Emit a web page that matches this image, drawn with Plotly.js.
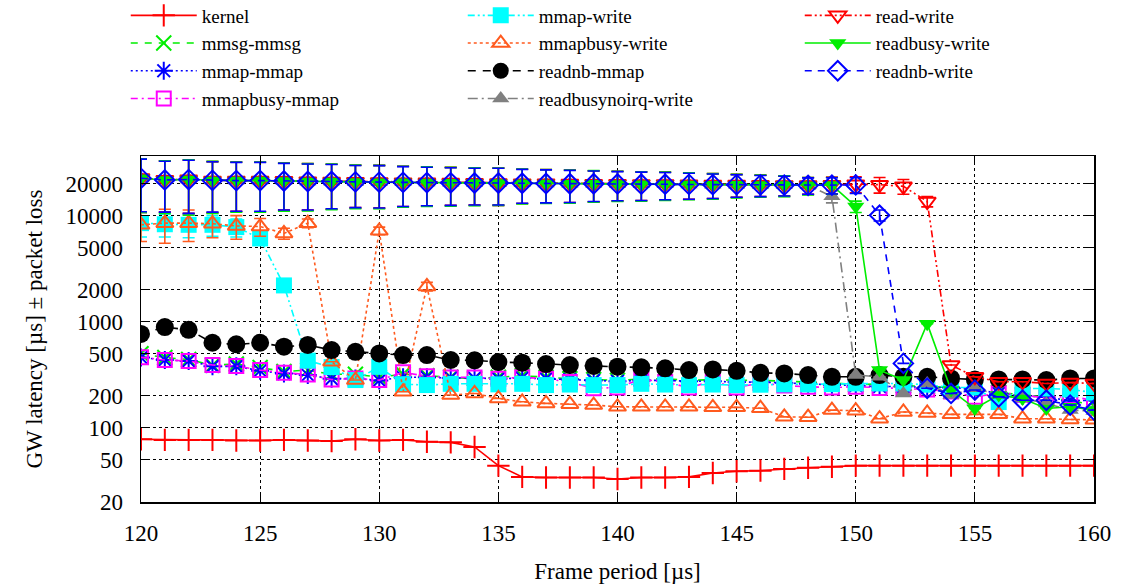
<!DOCTYPE html>
<html>
<head>
<meta charset="utf-8">
<script src="https://cdn.plot.ly/plotly-3.0.1.min.js"></script>
<style>
  html, body { margin: 0; padding: 0; background: #fff; }
  #chart { width: 1122px; height: 588px; }
</style>
</head>
<body>
<div id="chart"></div>
<script>
// Frame period [µs]
const framePeriod = [120,121,122,123,124,125,126,127,128,129,130,131,132,133,134,135,136,137,138,139,140,
                     141,142,143,144,145,146,147,148,149,150,151,152,153,154,155,156,157,158,159,160];

// GW latency [µs]
const kernel = [78,77,77,77,76,76,77,76,75,78, 76,77,74,73,66,44,34.5,34,34,34,
                33,34,34,34.5,37.5,39,39.5,41,42,43, 44,44,44,44,44,44,44,44,44,44,44];
const mmsgMmsg = [500,460,440,390,400,370,340,350,320,320, 300,320,310,300,290,300,310,300,290,285,
                  280,290,290,280,285,280,280,275,270,265, 255,260,250,245,240,230,215,205,195,180,165];
const mmapMmap = [460,436,427,380,380,345,325,315,290,292, 280,300,300,295,295,290,295,290,285,280,
                  275,280,280,275,275,270,270,265,260,255, 250,245,245,240,240,230,212,200,195,180,182];
const mmapbusyMmap = [462,436,427,391,383,350,330,319,285,292, 282,334,306,299,299,290,300,290,270,236,
                      240,288,270,240,275,240,265,250,244,240, 244,238,235,230,220,196,212,205,190,200,180];
const mmapWrite = [8500,8300,8200,8200,7800,6100,2200,430,374,282, 376,258,253,260,260,257,260,253,256,253,
                   253,260,256,253,256,253,255,257,257,258, 262,262,262,255,240,240,175,235,235,230,215];
const mmapWriteErr = [2200,2000,2000,1800,1500,500,null,null,null,null, null,null,null,null,null,null,null,null,null,null,
                      null,null,null,null,null,null,null,null,null,null, null,null,null,null,null,null,null,null,null,null,null];
const mmapbusyWrite = [8200,8500,8500,8400,8000,7900,6800,8500,420,282, 7200,219,2150,204,211,189,176,170,167,164,
                       158,158,158,158,156,156,153,127,126,147, 145,122,141,138,134,134,134,122,122,120,119];
const mmapbusyWriteErr = [2500,3000,2800,2200,2000,1500,800,800,null,null, 600,null,200,null,null,null,null,null,null,null,
                          null,null,null,null,null,null,null,null,null,null, null,null,null,null,null,null,null,null,null,null,null];
const readnbMmap = [767,890,840,634,612,634,582,604,541,521, 503,485,485,436,433,417,411,399,391,383,
                    377,372,364,350,355,345,330,326,314,303, 303,314,303,303,292,286,286,286,282,292,292];
const readbusynoirqWrite = [22400,21800,21900,21500,21400,21400,21200,21000,21000,20800, 20700,20600,20500,20400,20300,20300,20200,20100,20000,20000,
                            19900,19800,19800,19700,19600,19600,19500,19400,19300,15200, 314,303,211,262,204,236,204,189,170,147,144];
const readWrite = [22600,21800,22000,21500,21500,21400,21300,21100,21000,20900, 20800,20700,20600,20500,20400,20300,20200,20200,20100,20000,
                   20000,19900,19900,19800,19700,19700,19600,19500,19400,19600, 19800,19600,18900,13600,391,303,272,272,262,267,262];
const readbusyWrite = [22500,21700,21900,21500,21400,21400,21200,21000,21000,20800, 20700,20600,20500,20400,20300,20300,20200,20100,20000,20000,
                       19900,19800,19800,19700,19600,19600,19500,19400,19300,19400, 12200,350,282,960,227,152,204,189,152,158,147];
const readnbWrite = [22500,21700,21900,21500,21400,21400,21200,21000,21000,20800, 20700,20600,20500,20400,20300,20300,20200,20100,20000,20000,
                     19900,19800,19800,19700,19600,19600,19500,19400,19300,19400, 19500,10100,405,236,211,227,196,182,182,164,147];

// ± packet loss (error bars of the saturated series)
const readWriteErr = [11700,11000,11500,10800,10500,10500,10000,9800,9500,9000, 9000,8500,8200,8000,7800,7800,7200,7000,6800,6500,
                      6200,6000,5800,5500,5200,4800,4500,4200,3500,3500, 3400,3300,3000,1500,null,null,null,null,null,null,null];
const readbusyWriteErr = [11800,11200,11800,11000,10600,10600,10200,9900,9600,9200, 9100,8600,8300,8100,7900,7800,7300,7100,6900,6600,
                          6300,6100,5900,5600,5300,4900,4600,4300,3600,3500, 1500,null,null,null,null,null,null,null,null,null,null];
const readnbWriteErr = [11600,10900,11400,10700,10400,10400,9900,9700,9400,8900, 8900,8400,8100,7900,7700,7700,7100,6900,6700,6400,
                        6100,5900,5700,5400,5100,4700,4400,4100,3400,3400, 3300,1200,null,null,null,null,null,null,null,null,null];
const readbusynoirqWriteErr = [11700,11000,11500,10800,10500,10500,10000,9800,9500,9000, 9000,8500,8200,8000,7800,7800,7200,7000,6800,6500,
                               6200,6000,5800,5500,5200,4800,4500,4200,3500,2000, null,null,null,null,null,null,null,null,null,null,null];

const seriesNames = ['kernel','mmsg-mmsg','mmap-mmap','mmapbusy-mmap','mmap-write','mmapbusy-write',
                     'readnb-mmap','readbusynoirq-write','read-write','readbusy-write','readnb-write'];

function mk(name, y, err, color, dash, symbol, size, open, rank) {
  const t = {
    type: 'scatter', mode: 'lines+markers', name: name, x: framePeriod, y: y,
    line: {color: color, width: 1.6, dash: dash},
    marker: {symbol: symbol, size: size, color: color,
             line: {color: color, width: open ? 2 : 0}},
    legendrank: rank
  };
  if (err) {
    t.error_y = {type: 'data', array: err, visible: true, color: color, thickness: 1.6, width: 6};
  }
  return t;
}

const orange = '#ff5a1e';
const traces = [
  mk(seriesNames[0], kernel, null, '#ff0000', 'solid', 'cross-thin-open', 16, true, 1),
  mk(seriesNames[1], mmsgMmsg, null, '#00ee00', '7px,7px', 'x-thin-open', 15, true, 4),
  mk(seriesNames[2], mmapMmap, null, '#0000ff', '2px,3px', 'asterisk-open', 15, true, 7),
  mk(seriesNames[3], mmapbusyMmap, null, '#ff00ff', '7px,4px,2px,4px', 'square-open', 14, true, 10),
  mk(seriesNames[4], mmapWrite, mmapWriteErr, '#00ffff', '7px,3px,2px,3px,2px,3px', 'square', 16, false, 2),
  mk(seriesNames[5], mmapbusyWrite, mmapbusyWriteErr, orange, '3px,3px', 'triangle-up-open', 15, true, 5),
  mk(seriesNames[6], readnbMmap, null, '#000000', '8px,7px', 'circle', 18, false, 8),
  mk(seriesNames[7], readbusynoirqWrite, readbusynoirqWriteErr, '#808080', '10px,4px,2px,4px', 'triangle-up', 15, false, 11),
  mk(seriesNames[8], readWrite, readWriteErr, '#ff0000', '7px,3px,2px,3px,2px,3px', 'triangle-down-open', 15, true, 3),
  mk(seriesNames[9], readbusyWrite, readbusyWriteErr, '#00ee00', 'solid', 'triangle-down', 15, false, 6),
  mk(seriesNames[10], readnbWrite, readnbWriteErr, '#0000ff', '7px,6px', 'diamond-open', 15, true, 9)
];

const yTicks = [20,50,100,200,500,1000,2000,5000,10000,20000];
const xTicks = [120,125,130,135,140,145,150,155,160];

const fontFam = 'Liberation Serif, serif';
const layout = {
  width: 1122, height: 588,
  paper_bgcolor: '#ffffff', plot_bgcolor: '#ffffff',
  font: {family: fontFam, size: 22, color: '#000'},
  margin: {l: 141, r: 28, t: 156, b: 86, autoexpand: false},
  showlegend: true,
  legend: {
    orientation: 'h', xref: 'paper', yref: 'paper', x: -0.016, y: 1.461,
    xanchor: 'left', yanchor: 'top', traceorder: 'normal',
    entrywidth: 256, entrywidthmode: 'pixels', itemwidth: 66,
    font: {family: fontFam, size: 19}, bgcolor: 'rgba(0,0,0,0)', tracegroupgap: 0
  },
  xaxis: {
    range: [120, 160], tickvals: xTicks, ticktext: xTicks.map(String),
    ticks: 'inside', ticklen: 9, tickcolor: '#000', tickwidth: 1,
    showline: true, linecolor: '#000', linewidth: 1.5, mirror: 'ticks',
    showgrid: true, gridcolor: '#000', griddash: 'dot', gridwidth: 1,
    zeroline: false, ticklabelstandoff: 10,
    tickfont: {family: fontFam, size: 23},
    title: {text: 'Frame period [µs]', font: {family: fontFam, size: 23}, standoff: 18}
  },
  yaxis: {
    type: 'log', range: [Math.log10(20), Math.log10(36500)],
    tickvals: yTicks, ticktext: yTicks.map(String),
    ticks: 'inside', ticklen: 9, tickcolor: '#000', tickwidth: 1,
    showline: true, linecolor: '#000', linewidth: 1.5, mirror: 'ticks',
    showgrid: true, gridcolor: '#000', griddash: 'dot', gridwidth: 1,
    zeroline: false, ticklabelstandoff: 12,
    tickfont: {family: fontFam, size: 23},
    title: {text: 'GW latency [µs] ± packet loss', font: {family: fontFam, size: 23}, standoff: 16}
  }
};

Plotly.newPlot('chart', traces, layout, {staticPlot: true, displayModeBar: false});
</script>
</body>
</html>
